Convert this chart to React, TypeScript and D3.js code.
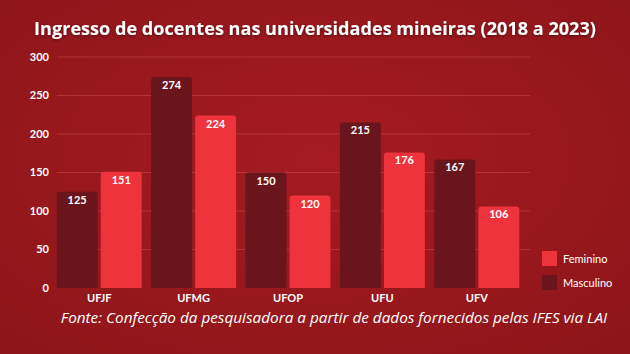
import React from "react";
import * as d3 from "d3";

const universidades = ["UFJF", "UFMG", "UFOP", "UFU", "UFV"];
const masculino = [125, 274, 150, 215, 167];
const feminino = [151, 224, 120, 176, 106];
const series = ["Masculino", "Feminino"];
const yTicks = [0, 50, 100, 150, 200, 250, 300];

const W = 630;
const H = 354;
const cores: Record<string, string> = { Masculino: "#6a151b", Feminino: "#ee333c" };

// top-rounded bar path
function barPath(x: number, y: number, w: number, h: number, r: number) {
	return `M${x},${y + h}V${y + r}Q${x},${y} ${x + r},${y}H${x + w - r}Q${x + w},${y} ${x + w},${y + r}V${y + h}Z`;
}

export default function App() {
	const x0 = d3.scaleBand().domain(universidades).range([52, 524]).paddingInner(0.1).paddingOuter(0.05);
	const x1 = d3.scaleBand().domain(series).range([0, x0.bandwidth()]).paddingInner(0.07);
	const y = d3.scaleLinear().domain([0, 300]).range([288, 57]);

	const rows = universidades.map((u, i) => ({ u, Masculino: masculino[i], Feminino: feminino[i] }));

	return (
		<svg width={W} height={H} style={{ display: "block", position: "absolute", left: 0, top: 0 }}>
			<defs>
				<radialGradient id="bg" cx="50%" cy="45%" r="75%">
					<stop offset="0%" stopColor="#a51b21" />
					<stop offset="100%" stopColor="#8c1519" />
				</radialGradient>
				<filter id="sh" x="-10%" y="-50%" width="120%" height="200%">
					<feDropShadow dx="0" dy="1" stdDeviation="1.5" floodColor="#000" floodOpacity="0.45" />
				</filter>
			</defs>
			<rect width={W} height={H} fill="url(#bg)" />
			<text x={315} y={35} textAnchor="middle" fill="#fff" fontFamily="'Open Sans', sans-serif" fontWeight={700} fontSize={18.1} filter="url(#sh)">
				Ingresso de docentes nas universidades mineiras (2018 a 2023)
			</text>
			{yTicks.map((t) => (
				<g key={t}>
					{t > 0 && <line x1={57} x2={530} y1={y(t)} y2={y(t)} stroke="#c2464b" strokeOpacity={0.6} strokeWidth={1} />}
					<text x={49} y={y(t)} dy="0.35em" textAnchor="end" fill="#fff" fontFamily="Lato, sans-serif" fontWeight={700} fontSize={11}>
						{t}
					</text>
				</g>
			))}
			{rows.map((r) => (
				<g key={r.u} transform={`translate(${x0(r.u)},0)`}>
					{series.map((s) => {
						const v = (r as any)[s] as number;
						const bx = x1(s)!;
						return (
							<g key={s}>
								<path d={barPath(bx, y(v), x1.bandwidth(), y(0) - y(v), 3)} fill={cores[s]} />
								<text x={bx + x1.bandwidth() / 2} y={y(v) + 12} textAnchor="middle" fill="#fff" fontFamily="Lato, sans-serif" fontWeight={700} fontSize={11}>
									{v}
								</text>
							</g>
						);
					})}
					<text x={x0.bandwidth() / 2} y={302} textAnchor="middle" fill="#fff" fontFamily="Lato, sans-serif" fontWeight={700} fontSize={11}>
						{r.u}
					</text>
				</g>
			))}
			{["Feminino", "Masculino"].map((s, i) => (
				<g key={s} transform={`translate(542,${251 + i * 24})`}>
					<rect width={15} height={15} fill={cores[s]} />
					<text x={21} y={8} dy="0.35em" fill="#fff" fontFamily="Lato, sans-serif" fontSize={11}>
						{s}
					</text>
				</g>
			))}
			<text x={334} y={323} textAnchor="middle" fill="#fff" fontFamily="'Open Sans', sans-serif" fontStyle="italic" fontSize={15.3}>
				Fonte: Confecção da pesquisadora a partir de dados fornecidos pelas IFES via LAI
			</text>
		</svg>
	);
}
